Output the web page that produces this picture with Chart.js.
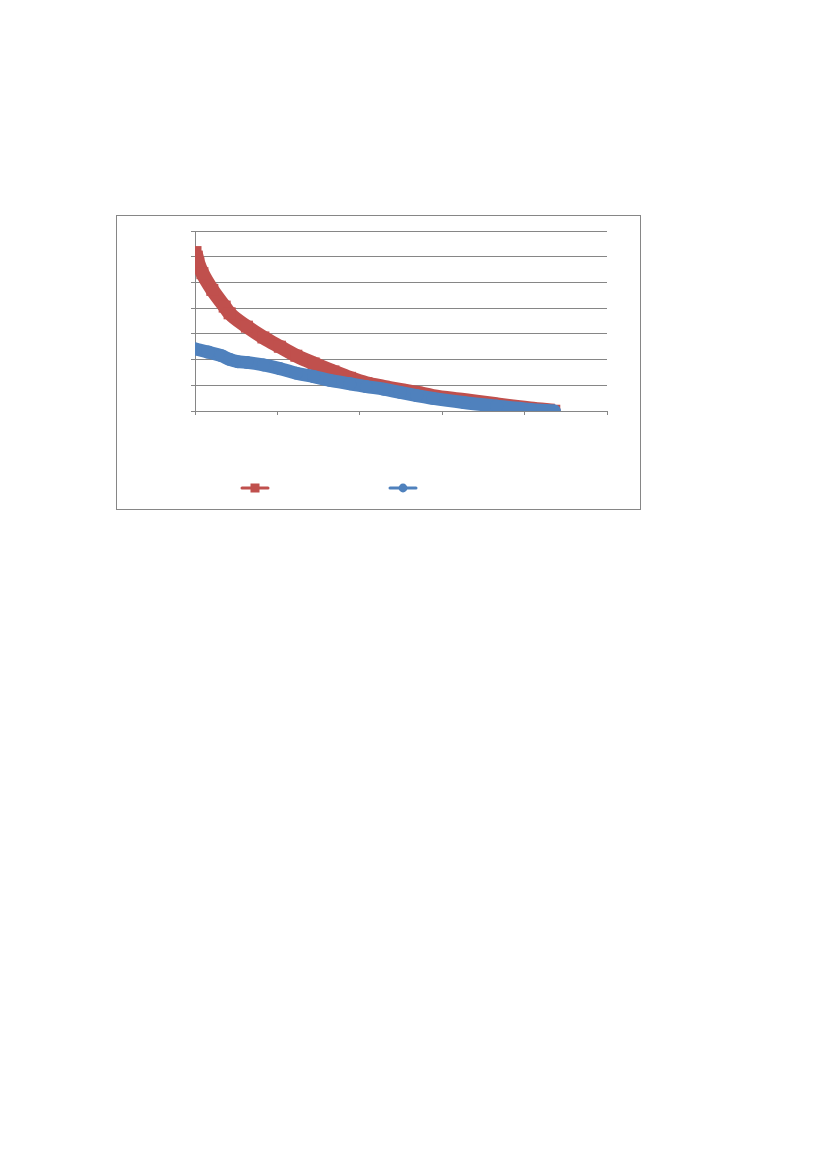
<!DOCTYPE html>
<html>
<head>
<meta charset="utf-8">
<script src="https://cdn.jsdelivr.net/npm/chart.js@4.4.1/dist/chart.umd.min.js"></script>
<style>
html, body { margin: 0; padding: 0; background: #ffffff; }
#box { position: absolute; left: 116px; top: 215px; width: 523px; height: 293px; border: 1px solid #868686; background: #ffffff; }
canvas { display: block; }
</style>
</head>
<body>
<div id="box"><canvas id="c" width="523" height="293"></canvas></div>
<script>
// ---- data ----
const seriesNames = ['', ''];
const xRed  = [0.006, 0.02, 0.04, 0.09, 0.21, 0.36, 0.42, 0.63, 0.83, 1.03, 1.23, 1.44, 1.68, 1.88, 2.08, 2.29, 2.49, 2.69, 2.89, 3.26, 3.66, 4.07, 4.36];
const yRed  = [6.18, 6.00, 5.75, 5.36, 4.71, 4.06, 3.80, 3.28, 2.86, 2.50, 2.15, 1.85, 1.54, 1.29, 1.08, 0.94, 0.82, 0.71, 0.58, 0.43, 0.26, 0.10, 0.01];
const xBlue = [0.006, 0.16, 0.32, 0.42, 0.52, 0.63, 0.83, 1.03, 1.23, 1.44, 1.64, 1.88, 2.08, 2.29, 2.49, 2.69, 2.89, 3.26, 3.66, 4.07, 4.36];
const yBlue = [2.41, 2.29, 2.15, 2.01, 1.92, 1.89, 1.79, 1.65, 1.47, 1.34, 1.19, 1.06, 0.95, 0.85, 0.72, 0.60, 0.49, 0.33, 0.19, 0.06, 0.00];
const xMin = 0, xMax = 5, xStep = 1;
const yMin = 0, yMax = 7, yStep = 1;

const RED = '#C0504D';
const BLUE = '#4F81BD';
const GRID = '#868686';

function toPoints(xs, ys) { return xs.map((x, i) => ({ x: x, y: ys[i] })); }

function legendIcon(color, marker) {
  const c = document.createElement('canvas');
  c.width = 120; c.height = 14;
  const g = c.getContext('2d');
  g.strokeStyle = color; g.lineWidth = 3; g.lineCap = 'round';
  g.beginPath(); g.moveTo(29, 7); g.lineTo(55, 7); g.stroke();
  g.fillStyle = color;
  if (marker === 'rect') { g.fillRect(37.5, 2.5, 9, 9); }
  else { g.beginPath(); g.arc(42, 7, 4.4, 0, Math.PI * 2); g.fill(); }
  return c;
}
const icons = [legendIcon(RED, 'rect'), legendIcon(BLUE, 'circle')];

new Chart(document.getElementById('c'), {
  type: 'line',
  data: {
    datasets: [
      {
        label: seriesNames[0],
        data: toPoints(xRed, yRed),
        borderColor: RED, backgroundColor: RED,
        borderWidth: 14, borderCapStyle: 'butt', borderJoinStyle: 'round',
        pointStyle: 'rect', pointRadius: 8.5, pointBorderWidth: 0,
        cubicInterpolationMode: 'monotone',
        order: 2
      },
      {
        label: seriesNames[1],
        data: toPoints(xBlue, yBlue),
        borderColor: BLUE, backgroundColor: BLUE,
        borderWidth: 13, borderCapStyle: 'round', borderJoinStyle: 'round',
        pointStyle: 'circle', pointRadius: 6.5, pointBorderWidth: 0,
        cubicInterpolationMode: 'monotone',
        order: 1
      }
    ]
  },
  options: {
    responsive: false,
    animation: false,
    layout: { padding: { left: 74, right: 33, top: 15, bottom: 5 } },
    plugins: {
      tooltip: { enabled: false },
      legend: {
        position: 'bottom',
        align: 'start',
        labels: {
          usePointStyle: true,
          pointStyleWidth: 120,
          padding: 22,
          font: { size: 12 },
          generateLabels: (chart) => chart.data.datasets.map((ds, i) => ({
            text: ds.label,
            pointStyle: icons[i],
            fillStyle: ds.borderColor,
            strokeStyle: ds.borderColor,
            lineWidth: 0,
            hidden: false,
            datasetIndex: i
          }))
        }
      }
    },
    scales: {
      x: {
        type: 'linear', min: xMin, max: xMax,
        ticks: { stepSize: xStep, display: false },
        grid: { drawOnChartArea: false, drawTicks: true, tickLength: 4, color: GRID, lineWidth: 1 },
        border: { display: true, color: GRID, width: 1 },
        afterFit: (scale) => { scale.height = 49; }
      },
      y: {
        type: 'linear', min: yMin, max: yMax,
        ticks: { stepSize: yStep, display: false },
        grid: { drawOnChartArea: true, drawTicks: true, tickLength: 4, color: GRID, lineWidth: 1 },
        border: { display: true, color: GRID, width: 1 }
      }
    }
  }
});
</script>
</body>
</html>
